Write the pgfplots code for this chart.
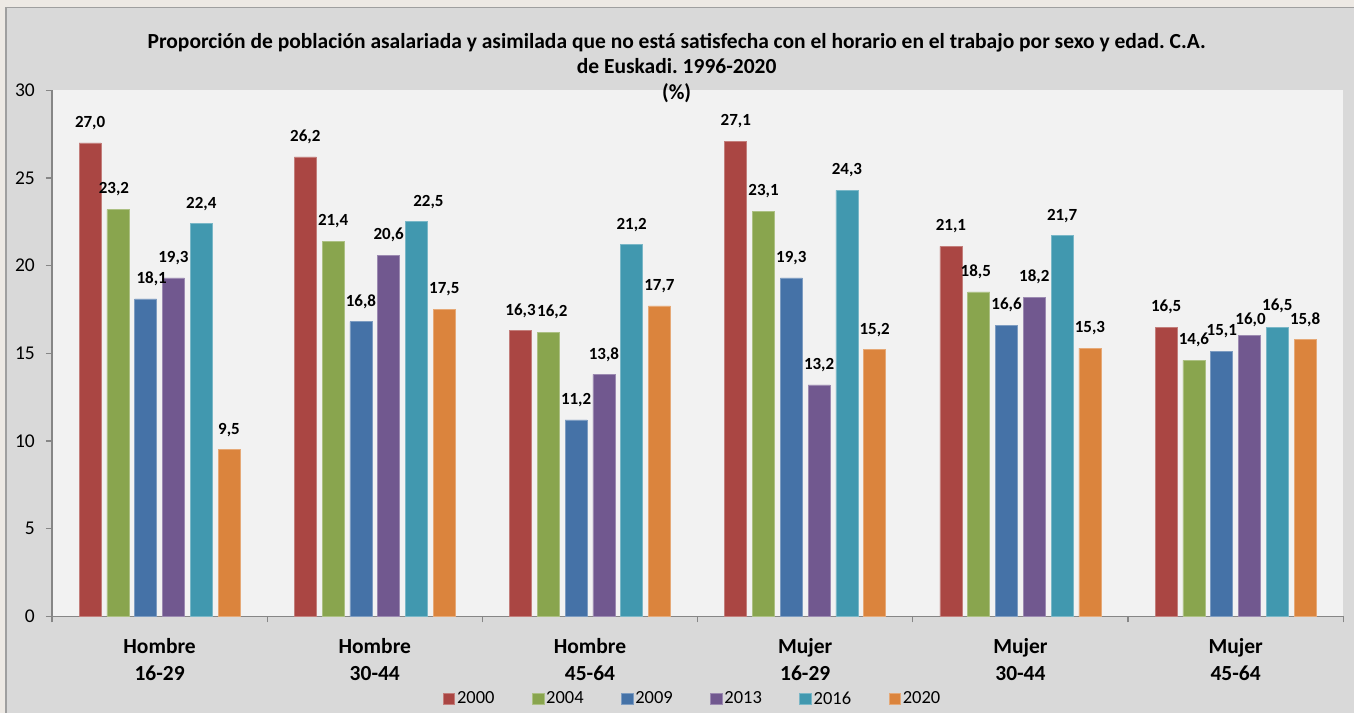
\documentclass[border=0pt]{standalone}
\usepackage{fontspec}
\setmainfont{Carlito}
\usepackage{pgfplots}
\pgfplotsset{compat=1.18}
\usepackage{pgfplotstable}
\frenchspacing

\definecolor{c2000}{HTML}{AA4643}
\definecolor{c2004}{HTML}{89A54E}
\definecolor{c2009}{HTML}{4572A7}
\definecolor{c2013}{HTML}{71588F}
\definecolor{c2016}{HTML}{4198AF}
\definecolor{c2020}{HTML}{DB843D}
\definecolor{chartbg}{HTML}{D9D9D9}
\definecolor{plotbg}{HTML}{F2F2F2}
\definecolor{outerbg}{HTML}{EDE9E4}
\definecolor{axisgray}{HTML}{868686}

\pgfplotstableread{
x  a    b    c    d    e    f
0  27.0 23.2 18.1 19.3 22.4 9.5
1  26.2 21.4 16.8 20.6 22.5 17.5
2  16.3 16.2 11.2 13.8 21.2 17.7
3  27.1 23.1 19.3 13.2 24.3 15.2
4  21.1 18.5 16.6 18.2 21.7 15.3
5  16.5 14.6 15.1 16.0 16.5 15.8
}\datatable

\begin{document}
\begin{tikzpicture}
\fill[outerbg] (0,0) rectangle (1355bp,713bp);
\fill[chartbg] (6bp,0) rectangle (1355bp,705.5bp);
\draw[gray!75, line width=1.5bp] (6bp,0) -- (6bp,705.5bp) -- (1355bp,705.5bp);
\begin{axis}[
  at={(52bp,96.4bp)}, anchor=south west,
  scale only axis, width=1292bp, height=526.2bp,
  xmin=-0.5, xmax=5.5, ymin=0, ymax=30,
  axis background/.style={fill=plotbg},
  axis x line*=bottom, axis y line*=left,
  axis line style={axisgray, line width=1.2bp},
  /pgf/number format/assume math mode=true,
  ybar=5.8bp, bar width=22bp,
  ytick={0,5,...,30},
  tick align=outside,
  major tick length=6bp, minor tick length=6bp,
  tick style={axisgray, line width=1.2bp},
  yticklabel style={font=\fontsize{19.5bp}{21bp}\selectfont, anchor=east, inner sep=0pt, xshift=-11bp},
  xtick={0,...,5},
  xticklabels={{Hombre\\16-29},{Hombre\\30-44},{Hombre\\45-64},{Mujer\\16-29},{Mujer\\30-44},{Mujer\\45-64}},
  major x tick style={draw=none},
  minor xtick={-0.5,0.5,1.5,2.5,3.5,4.5,5.5},
  xticklabel style={align=center, font=\bfseries\fontsize{21.5bp}{26.5bp}\selectfont, anchor=north, inner sep=0pt, yshift=-16bp},
  nodes near coords={\pgfmathprintnumber[fixed,fixed zerofill,precision=1,use comma]{\pgfplotspointmeta}},
  every node near coord/.append style={font=\bfseries\fontsize{17bp}{19bp}\selectfont, anchor=center, inner sep=0pt, yshift=20bp},
  legend columns=6,
  legend style={at={(0.4961,-0.1566)}, anchor=center, draw=none, fill=none,
    font=\fontsize{18.5bp}{20bp}\selectfont,
    /tikz/every even column/.append style={column sep=35.5bp}},
  legend image code/.code={\fill[#1] (0bp,-5.5bp) rectangle (11.5bp,5.5bp);},
  clip=false,
]
\addplot[fill=c2000, draw=c2000!70!white, line width=0.7bp] table[x=x,y=a]{\datatable};
\addplot[fill=c2004, draw=c2004!70!white, line width=0.7bp,
  coordinate style/.condition={\coordindex==0}{xshift=-4bp},
  coordinate style/.condition={\coordindex==2}{xshift=4bp},
  coordinate style/.condition={\coordindex==4}{xshift=-3bp}] table[x=x,y=b]{\datatable};
\addplot[fill=c2009, draw=c2009!70!white, line width=0.7bp,
  coordinate style/.condition={\coordindex==0}{xshift=6bp}] table[x=x,y=c]{\datatable};
\addplot[fill=c2013, draw=c2013!70!white, line width=0.7bp,
  coordinate style/.condition={\coordindex==5}{xshift=1bp, yshift=-4bp}] table[x=x,y=d]{\datatable};
\addplot[fill=c2016, draw=c2016!70!white, line width=0.7bp,
  coordinate style/.condition={\coordindex==1}{xshift=12bp},
  coordinate style/.condition={\coordindex==5}{yshift=1bp}] table[x=x,y=e]{\datatable};
\addplot[fill=c2020, draw=c2020!70!white, line width=0.7bp] table[x=x,y=f]{\datatable};
\legend{2000,2004,2009,2013,2016,2020}
\end{axis}
\node[align=center, font=\bfseries\fontsize{21.5bp}{25.5bp}\selectfont] at (677bp,645bp)
  {Proporción de población asalariada y asimilada que no está satisfecha con el horario en el trabajo por sexo y edad. C.A.\\de Euskadi. 1996-2020\\(\%)};
\end{tikzpicture}
\end{document}
